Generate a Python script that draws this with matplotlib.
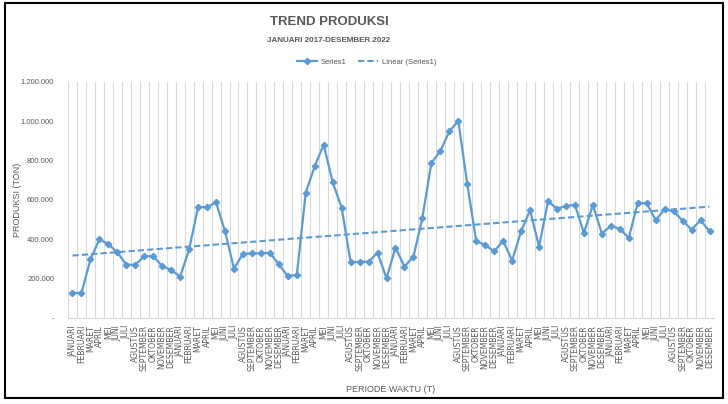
import matplotlib
matplotlib.use("Agg")
import matplotlib.pyplot as plt
import numpy as np
from matplotlib.patches import Rectangle
from matplotlib.ticker import FuncFormatter, MultipleLocator

plt.rcParams['font.family'] = ['Liberation Sans', 'DejaVu Sans']

months = ["JANUARI", "FEBRUARI", "MARET", "APRIL", "MEI", "JUNI", "JULI",
          "AGUSTUS", "SEPTEMBER", "OKTOBER", "NOVEMBER", "DESEMBER"]
years = [2017, 2018, 2019, 2020, 2021, 2022]
tick_labels = months * len(years)

produksi = [
    # 2017
    127000, 127000, 298000, 400000, 375000, 334000, 271000, 271000, 314000, 314000, 264000, 244000,
    # 2018
    210000, 349000, 564000, 564000, 588000, 441000, 251000, 327000, 328000, 329000, 332000, 273000,
    # 2019
    212000, 220000, 637000, 773000, 881000, 690000, 561000, 283000, 286000, 286000, 332000, 202000,
    # 2020
    358000, 261000, 312000, 510000, 788000, 849000, 949000, 1002000, 681000, 391000, 371000, 339000,
    # 2021
    393000, 291000, 441000, 548000, 363000, 593000, 556000, 569000, 576000, 432000, 575000, 429000,
    # 2022
    469000, 453000, 408000, 585000, 583000, 497000, 553000, 542000, 495000, 449000, 497000, 441000,
]

blue = "#5B9BD5"
gray = "#595959"

fig = plt.figure(figsize=(7.28, 4.04), dpi=100)
ax = fig.add_axes([68/728, 1-318/404, (714-68)/728, (318-82)/404])

x = np.arange(len(produksi))
y = np.array(produksi, dtype=float)
ax.plot(x, y, color=blue, lw=1.6, marker="D", ms=3.2, label="Series1", zorder=3)

coef = np.polyfit(x, y, 1)
trend = np.polyval(coef, x)
ax.plot(x, trend, color=blue, lw=1.5, ls=(0, (3, 1.5)), label="Linear (Series1)", zorder=2)

ax.set_xlim(-0.5, len(produksi) - 0.5)
ax.set_ylim(0, 1200000)
ax.yaxis.set_major_locator(MultipleLocator(200000))

def yfmt(v, pos):
    if v == 0:
        return "-"
    return f"{int(v):,}".replace(",", ".")
ax.yaxis.set_major_formatter(FuncFormatter(yfmt))

ax.set_xticks(x)
ax.set_xticklabels(tick_labels, rotation=90, fontsize=5.6, color=gray, family=['DejaVu Sans'])
ax.set_xticks(np.arange(-0.5, len(produksi), 1), minor=True)
ax.grid(which="minor", axis="x", color="#D9D9D9", lw=0.8)
ax.grid(which="major", axis="both", visible=False)
ax.tick_params(axis="x", which="both", length=0, pad=5)
ax.tick_params(axis="y", length=0, labelsize=5.5, labelcolor=gray, pad=10)

for s in ["top", "right", "left"]:
    ax.spines[s].set_visible(False)
ax.spines["bottom"].set_color("#D9D9D9")

ax.set_xlabel("PERIODE WAKTU (T)", fontsize=6.5, color=gray)
ax.xaxis.set_label_coords(0.5, -(385-318)/236)
ax.set_ylabel("PRODUKSI (TON)", fontsize=6.5, color=gray)
ax.yaxis.set_label_coords(-(68-22)/646, 0.5)

fig.text(329/728, 1-22/404, "TREND PRODUKSI", ha="center", va="center",
         fontsize=9.5, fontweight="bold", color=gray)
fig.text(329/728, 1-40/404, "JANUARI 2017-DESEMBER 2022", ha="center", va="center",
         fontsize=5.8, fontweight="bold", color=gray)

fig.legend(loc="center", bbox_to_anchor=(367/728, 1-62/404), ncol=2, frameon=False,
           fontsize=5.5, labelcolor=gray, handlelength=2.6, columnspacing=1.5, handletextpad=0.5)

fig.patches.append(Rectangle((5/728, 1-398/404), 718/728, 395/404, transform=fig.transFigure,
                             fill=False, edgecolor="black", lw=1.5))

fig.savefig("out.png", dpi=100)
